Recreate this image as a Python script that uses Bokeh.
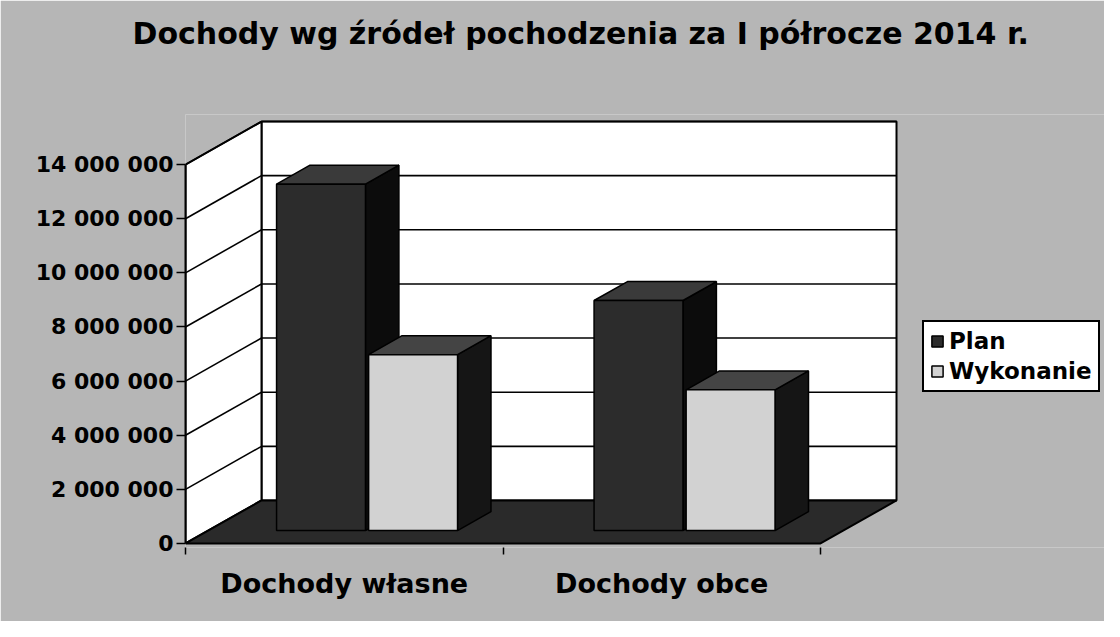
from bokeh.plotting import figure
from bokeh.models import Range1d, FixedTicker, Legend, LegendItem, Title
from bokeh.embed import file_html
from bokeh.resources import INLINE

# ---------------- data ----------------
title_text = "Dochody wg źródeł pochodzenia za I półrocze 2014 r."
categories = ["Dochody własne", "Dochody obce"]
series_names = ["Plan", "Wykonanie"]
plan = [12_800_000, 8_500_000]
wykonanie = [6_500_000, 5_200_000]
y_ticks = [0, 2_000_000, 4_000_000, 6_000_000, 8_000_000, 10_000_000, 12_000_000, 14_000_000]
y_tick_labels = ["0", "2 000 000", "4 000 000", "6 000 000", "8 000 000",
                 "10 000 000", "12 000 000", "14 000 000"]

# ---------------- geometry / style ----------------
DX = 0.2394          # depth shift along x (category units)
DY = 1_590_000       # depth shift along y (value units)
Y_TOP = y_ticks[-1]
BAR_W = 0.28
BAR_GAP = 0.01
F0, F1 = 0.30, 0.74  # bar front / back depth fractions
N = len(categories)

BG = "#b6b6b6"
FONT = "DejaVu Sans"

p = figure(width=1104, height=621, output_backend="svg", toolbar_location=None,
           x_range=Range1d(0, 919 / 317.5), y_range=Range1d(-148_000, 15_850_000),
           min_border_left=185, min_border_right=0, min_border_top=114,
           min_border_bottom=74)
p.background_fill_color = BG
p.border_fill_color = BG
p.outline_line_color = None
p.xgrid.visible = False
p.ygrid.visible = False

# a second (blank) line lifts the title towards the top of the page
p.title = Title(text=title_text + "\n ", align="left", offset=-53, vertical_align="top",
                standoff=18, text_font=FONT, text_font_style="bold",
                text_font_size="30px", text_line_height=1.5, text_color="black")

# walls
p.patch([DX, DX + N, DX + N, DX], [DY, DY, Y_TOP + DY, Y_TOP + DY],
        fill_color="white", line_color="black", line_width=2)
p.patch([0, DX, DX, 0], [0, DY, Y_TOP + DY, Y_TOP],
        fill_color="white", line_color="black", line_width=2)
gv = y_ticks[1:]
p.segment(x0=[0] * len(gv), y0=gv, x1=[DX] * len(gv), y1=[v + DY for v in gv],
          line_color="black", line_width=1.6)
p.segment(x0=[DX] * len(gv), y0=[v + DY for v in gv], x1=[DX + N] * len(gv),
          y1=[v + DY for v in gv], line_color="black", line_width=1.6)
# floor
p.patch([0, N, N + DX, DX], [0, 0, DY, DY], fill_color="#2a2a2a",
        line_color="black", line_width=2)

# bars
sx0, sy0 = F0 * DX, F0 * DY
sx1, sy1 = F1 * DX, F1 * DY
front_renderers = []
for s, (vals, fcol, scol, tcol) in enumerate([
        (plan, "#2c2c2c", "#0c0c0c", "#3a3a3a"),
        (wykonanie, "#d2d2d2", "#151515", "#444444")]):
    lefts, rights, tops = [], [], []
    side_xs, side_ys, top_xs, top_ys = [], [], [], []
    for i, v in enumerate(vals):
        x0 = i + 0.5 + (-BAR_GAP / 2 - BAR_W if s == 0 else BAR_GAP / 2)
        x1 = x0 + BAR_W
        lefts.append(x0 + sx0)
        rights.append(x1 + sx0)
        tops.append(v + sy0)
        side_xs.append([x1 + sx0, x1 + sx1, x1 + sx1, x1 + sx0])
        side_ys.append([sy0, sy1, v + sy1, v + sy0])
        top_xs.append([x0 + sx0, x1 + sx0, x1 + sx1, x0 + sx1])
        top_ys.append([v + sy0, v + sy0, v + sy1, v + sy1])
    p.patches(side_xs, side_ys, fill_color=scol, line_color="black", line_width=1.5)
    p.patches(top_xs, top_ys, fill_color=tcol, line_color="black", line_width=1.5)
    r = p.quad(left=lefts, right=rights, bottom=[sy0] * len(vals), top=tops,
               fill_color=fcol, line_color="black", line_width=1.5)
    front_renderers.append(r)

# axes
p.yaxis.ticker = FixedTicker(ticks=y_ticks, minor_ticks=[])
p.yaxis.major_label_overrides = {t: l for t, l in zip(y_ticks, y_tick_labels)}
p.yaxis.bounds = (0, Y_TOP)
p.yaxis.axis_line_width = 2
p.yaxis.axis_line_color = "black"
p.yaxis.major_tick_out = 9
p.yaxis.major_tick_in = 0
p.yaxis.major_tick_line_width = 1.5
p.yaxis.major_label_standoff = 3
p.yaxis.major_label_text_font = FONT
p.yaxis.major_label_text_font_style = "bold"
p.yaxis.major_label_text_font_size = "22px"
p.yaxis.major_label_text_color = "black"

p.xaxis.ticker = FixedTicker(ticks=[i + 0.5 for i in range(N)],
                             minor_ticks=list(range(N + 1)))
p.xaxis.major_label_overrides = {i + 0.5: c for i, c in enumerate(categories)}
p.xaxis.axis_line_color = None
p.xaxis.major_tick_line_color = None
p.xaxis.major_tick_out = 0
p.xaxis.major_tick_in = 0
p.xaxis.minor_tick_line_color = "black"
p.xaxis.minor_tick_line_width = 1.5
p.xaxis.minor_tick_out = 7
p.xaxis.minor_tick_in = 0
p.xaxis.major_label_standoff = 13
p.xaxis.major_label_text_font = FONT
p.xaxis.major_label_text_font_style = "bold"
p.xaxis.major_label_text_font_size = "27px"
p.xaxis.major_label_text_color = "black"

legend = Legend(items=[LegendItem(label=series_names[k], renderers=[front_renderers[k]])
                       for k in range(2)],
                location=(737, 155), orientation="vertical")
legend.label_text_font = FONT
legend.label_text_font_style = "bold"
legend.label_text_font_size = "23px"
legend.label_text_color = "black"
legend.glyph_width = 14
legend.glyph_height = 14
legend.label_standoff = 5
legend.padding = 6
legend.spacing = 4
legend.margin = 0
legend.border_line_color = "black"
legend.border_line_alpha = 1
legend.border_line_width = 2
legend.background_fill_color = "white"
legend.background_fill_alpha = 1
p.add_layout(legend)

open("out.html", "w").write(file_html(p, INLINE))
